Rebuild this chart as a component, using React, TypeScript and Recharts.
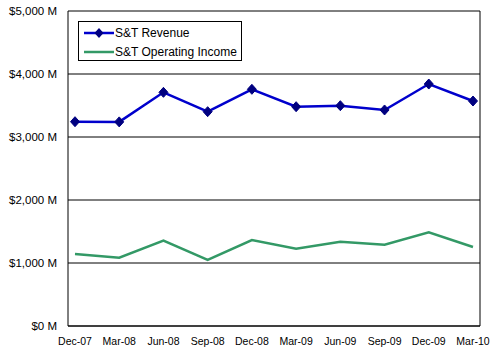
import { LineChart, Line, XAxis, YAxis, CartesianGrid } from "recharts";

const quarters = ["Dec-07", "Mar-08", "Jun-08", "Sep-08", "Dec-08", "Mar-09", "Jun-09", "Sep-09", "Dec-09", "Mar-10"];
const revenue = [3243, 3240, 3709, 3402, 3757, 3481, 3497, 3429, 3841, 3571];
const operatingIncome = [1143, 1085, 1354, 1048, 1365, 1227, 1338, 1291, 1487, 1254];
const yTicks = [0, 1000, 2000, 3000, 4000, 5000];
const seriesNames = ["S&T Revenue", "S&T Operating Income"];

const data = quarters.map((q, i) => ({
  quarter: q,
  revenue: revenue[i],
  income: operatingIncome[i],
}));

const fmt = (v: number) => `$${v.toLocaleString("en-US")} M`;

const Diamond = (props: any) => {
  const { cx, cy, index } = props;
  if (cx == null || cy == null) return <g key={`d-${index}`} />;
  return (
    <path
      key={`d-${index}`}
      d={`M${cx},${cy - 5} L${cx + 4.5},${cy} L${cx},${cy + 5} L${cx - 4.5},${cy} Z`}
      fill="#000080"
      stroke="#000080"
      strokeWidth={1}
    />
  );
};

// legend drawn as an overlay box inside the plot, like the Excel original
const LegendBox = () => (
  <div
    style={{
      position: "absolute",
      left: 78,
      top: 21,
      border: "1px solid #000",
      background: "#fff",
      width: 162,
      height: 38,
      fontSize: 12,
      color: "#000",
      fontFamily: "'Liberation Sans', Arial, sans-serif",
    }}
  >
    <div style={{ display: "flex", alignItems: "center", height: 19, marginTop: 1 }}>
      <svg width={36} height={12} style={{ marginLeft: 5 }}>
        <line x1={0} y1={6} x2={30} y2={6} stroke="#0000CC" strokeWidth={2.5} />
        <path d="M15,1 L19.5,6 L15,11 L10.5,6 Z" fill="#000080" />
      </svg>
      <span style={{ marginLeft: -5 }}>{seriesNames[0]}</span>
    </div>
    <div style={{ display: "flex", alignItems: "center", height: 19 }}>
      <svg width={36} height={12} style={{ marginLeft: 5 }}>
        <line x1={0} y1={6} x2={30} y2={6} stroke="#339966" strokeWidth={2.5} />
      </svg>
      <span style={{ marginLeft: -5 }}>{seriesNames[1]}</span>
    </div>
  </div>
);

export default function App() {
  return (
    <div style={{ position: "absolute", left: 0, top: 0, width: 500, height: 356, background: "#fff" }}>
      <LineChart
        width={500}
        height={356}
        data={data}
        margin={{ top: 11, right: 19, bottom: 0, left: 0 }}
        style={{ fontFamily: "'Liberation Sans', Arial, sans-serif" }}
      >
        <CartesianGrid vertical={false} stroke="#000" strokeWidth={1} />
        <XAxis
          dataKey="quarter"
          interval={0}
          padding={{ left: 7, right: 7 }}
          tickLine={false}
          axisLine={{ stroke: "#000" }}
          tickMargin={6}
          height={30}
          tick={{ fill: "#000", fontSize: 10.5 }}
        />
        <YAxis
          domain={[0, 5000]}
          ticks={yTicks}
          tickFormatter={fmt}
          tickLine={false}
          axisLine={{ stroke: "#000" }}
          tickMargin={5}
          width={68}
          tick={{ fill: "#000", fontSize: 11.5 }}
        />
        <YAxis
          yAxisId="r"
          orientation="right"
          domain={[0, 5000]}
          tick={false}
          tickLine={false}
          axisLine={{ stroke: "#000" }}
          width={1}
        />
        <Line
          dataKey="revenue"
          name={seriesNames[0]}
          stroke="#0000CC"
          strokeWidth={2.5}
          dot={Diamond}
          isAnimationActive={false}
        />
        <Line
          dataKey="income"
          name={seriesNames[1]}
          stroke="#339966"
          strokeWidth={2.5}
          dot={false}
          isAnimationActive={false}
        />
      </LineChart>
      <LegendBox />
    </div>
  );
}
